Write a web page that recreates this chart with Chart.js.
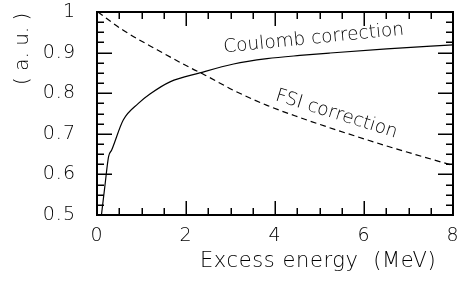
<!DOCTYPE html>
<html>
<head>
<meta charset="utf-8">
<script src="https://cdn.jsdelivr.net/npm/chart.js@4.4.1/dist/chart.umd.min.js"></script>
<style>
  html, body { margin: 0; padding: 0; background: #fff; }
  #wrap { width: 458px; height: 281px; position: relative; }
</style>
</head>
<body>
<div id="wrap"><canvas id="c" width="458" height="281"></canvas></div>
<script>
// ---- data ----
const coulombE   = [0.10, 0.18, 0.26, 0.33, 0.59, 0.93, 1.19, 1.64, 2.31, 3.07, 3.82, 4.56, 5.24, 6.51, 8.00];
const coulombVal = [0.500, 0.574, 0.644, 0.660, 0.734, 0.775, 0.798, 0.828, 0.850, 0.872, 0.885, 0.893, 0.899, 0.909, 0.919];
const fsiE       = [0.02, 0.59, 1.35, 2.09, 2.42, 3.07, 3.82, 4.56, 5.20, 6.51, 8.00];
const fsiVal     = [1.000, 0.955, 0.907, 0.863, 0.845, 0.807, 0.770, 0.740, 0.716, 0.670, 0.622];
const xTickLabels = [0, 2, 4, 6, 8];
const yTickLabels = [0.5, 0.6, 0.7, 0.8, 0.9, 1];
const xTitle = 'Excess energy  (MeV)';
const yTitle = '( a. u. )';
const coulombLabel = 'Coulomb correction';
const fsiLabel = 'FSI correction';

const FONT = '"DejaVu Sans", sans-serif';

const toPts = (xs, ys) => xs.map((x, i) => ({ x: x, y: ys[i] }));

const framePlugin = {
  id: 'frame',
  beforeDraw(chart) {
    chart.ctx.letterSpacing = '1px';
  },
  afterDraw(chart) {
    const ctx = chart.ctx;
    const a = chart.chartArea;
    const xs = chart.scales.x, ys = chart.scales.y;
    ctx.save();
    ctx.setLineDash([]);
    ctx.fillStyle = '#000';
    const L = Math.round(a.left), R = Math.round(a.right), T = Math.round(a.top), B = Math.round(a.bottom);
    // ticks (inward, all four sides): major every labelled value, minor subdivisions
    for (let i = 0; i <= 16; i++) {
      const len = (i % 4 === 0) ? 14 : 7;
      const px = Math.round(xs.getPixelForValue(i * 0.5));
      ctx.fillRect(px - 0.5, B - len, 1.5, len);
      ctx.fillRect(px - 0.5, T, 1.5, len);
    }
    for (let i = 0; i <= 20; i++) {
      const len = (i % 4 === 0) ? 15 : 7;
      const py = Math.round(ys.getPixelForValue(0.5 + i * 0.025));
      ctx.fillRect(L, py - 0.5, len, 1.5);
      ctx.fillRect(R - len, py - 0.5, len, 1.5);
    }
    // frame
    ctx.fillRect(L - 1, T - 1, R - L + 2, 2);
    ctx.fillRect(L - 1, B - 1, R - L + 2, 2);
    ctx.fillRect(L - 1, T - 1, 2, B - T + 2);
    ctx.fillRect(R - 1, T - 1, 2, B - T + 2);

    // text annotations
    ctx.textBaseline = 'alphabetic';
    ctx.textAlign = 'left';
    ctx.letterSpacing = '0px';
    ctx.font = '200 18.5px ' + FONT;
    ctx.save();
    ctx.translate(224, 52.5);
    ctx.rotate(-5.7 * Math.PI / 180);
    ctx.fillText(coulombLabel, 0, 0);
    ctx.restore();
    ctx.save();
    ctx.translate(274.5, 100);
    ctx.rotate(17.3 * Math.PI / 180);
    ctx.fillText(fsiLabel, 0, 0);
    ctx.restore();

    // axis titles
    ctx.letterSpacing = '0.6px';
    ctx.font = '200 21px ' + FONT;
    ctx.fillText(xTitle, 200, 266.5);
    ctx.save();
    ctx.letterSpacing = '0px';
    ctx.font = '200 20px ' + FONT;
    ctx.translate(28, 85);
    ctx.rotate(-Math.PI / 2);
    ctx.fillText(yTitle, 0, 0);
    ctx.restore();
    ctx.restore();
  }
};

new Chart(document.getElementById('c'), {
  type: 'scatter',
  data: {
    datasets: [
      {
        label: coulombLabel,
        data: toPts(coulombE, coulombVal),
        showLine: true,
        borderColor: '#000',
        borderWidth: 1.2,
        pointRadius: 0,
        cubicInterpolationMode: 'monotone',
        fill: false
      },
      {
        label: fsiLabel,
        data: toPts(fsiE, fsiVal),
        showLine: true,
        borderColor: '#000',
        borderWidth: 1.2,
        borderDash: [6, 4],
        pointRadius: 0,
        cubicInterpolationMode: 'monotone',
        fill: false
      }
    ]
  },
  options: {
    responsive: false,
    animation: false,
    events: [],
    layout: { padding: { left: 0, right: 5, top: 12, bottom: 0 } },
    plugins: { legend: { display: false }, tooltip: { enabled: false } },
    scales: {
      x: {
        type: 'linear',
        min: 0, max: 8,
        grid: { display: false, drawTicks: false },
        border: { display: false },
        ticks: {
          stepSize: 2,
          maxRotation: 0,
          autoSkip: false,
          padding: 10,
          color: '#000',
          font: { family: FONT, size: 19, weight: '200' },
          callback: (v) => xTickLabels.includes(v) ? String(v) : ''
        },
        afterFit: (s) => { s.height = 66; s.paddingLeft = 0; s.paddingRight = 0; }
      },
      y: {
        type: 'linear',
        min: 0.5, max: 1,
        grid: { display: false, drawTicks: false },
        border: { display: false },
        ticks: {
          stepSize: 0.1,
          autoSkip: false,
          padding: 21,
          color: '#000',
          font: { family: FONT, size: 19, weight: '200' },
          callback: (v) => {
            const m = yTickLabels.find(t => Math.abs(t - v) < 1e-6);
            return m === undefined ? '' : String(m);
          }
        },
        afterFit: (s) => { s.width = 97; s.paddingTop = 0; s.paddingBottom = 0; }
      }
    }
  },
  plugins: [framePlugin]
});
</script>
</body>
</html>
